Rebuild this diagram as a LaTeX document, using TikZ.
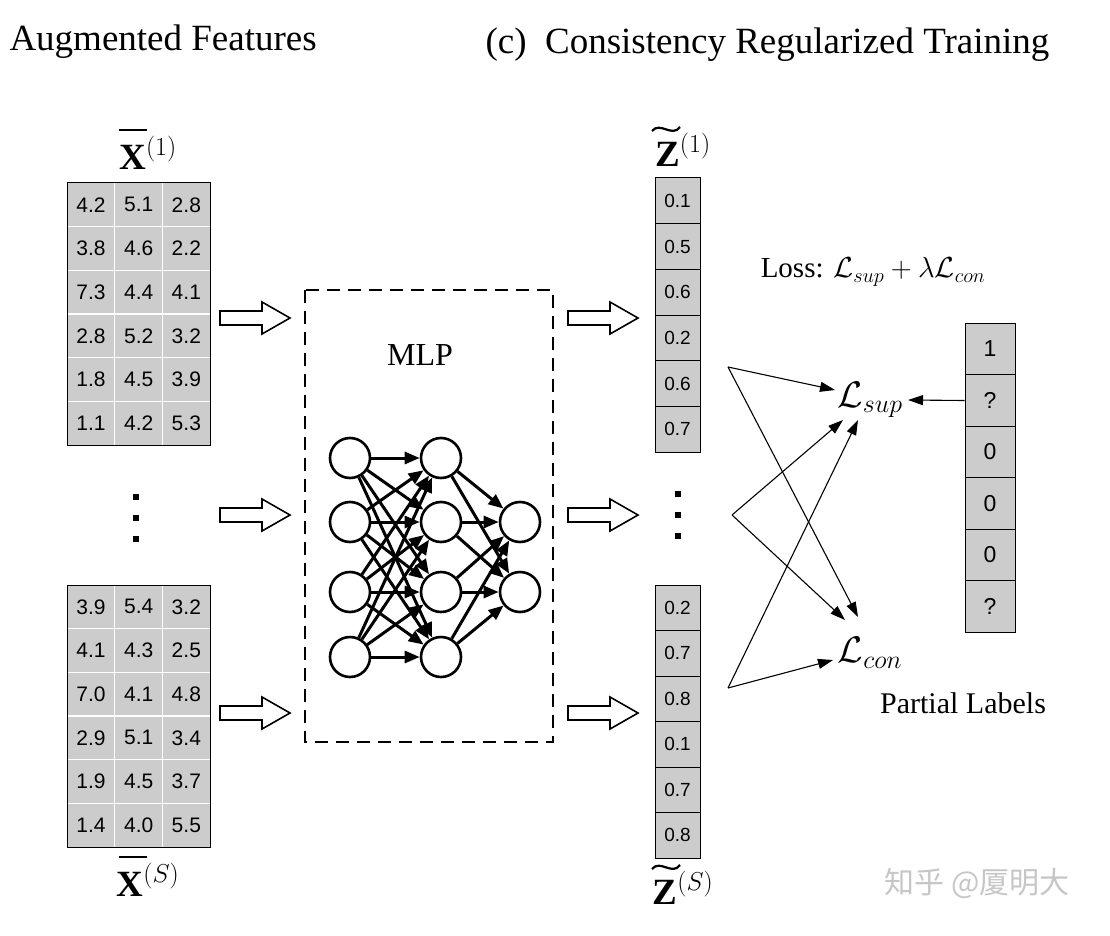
\documentclass[tikz,border=0pt]{standalone}
\usepackage{fix-cm}
\usepackage{fontspec}
\setmainfont{Liberation Serif}
\newfontfamily\cellfont{Liberation Sans}
\newfontfamily\cjk{Noto Sans CJK SC}
\usetikzlibrary{arrows.meta}
\begin{document}
\begin{tikzpicture}[x=1pt,y=-1pt,
  big/.style={font=\fontsize{37}{40}\selectfont},
  mid/.style={font=\fontsize{32}{36}\selectfont},
  cell/.style={font=\cellfont\fontsize{21}{24}\selectfont},
  neu/.style={circle,draw,line width=2.6pt,minimum size=40,inner sep=0},
  na/.style={line width=3pt,-{Triangle[length=15,width=12]},shorten >=0},
  la/.style={line width=1.1pt,-{Triangle[length=15,width=10]}},
  acc/.style={line width=2.2pt},
  dot/.style={fill=black,minimum size=6,inner sep=0}]
\useasboundingbox (0,0) rectangle (1110,936);
\node[big,anchor=west] (t1) at (6,42) {Augmented Features};
\node[big,anchor=west] (t2) at (482,45) {(c)\ \ Consistency Regularized Training};
\newcommand\mymatrix[3]{%
  \fill[gray!40] (67,#1) rectangle (210,#1+262);
  \foreach \i in {1,...,5} \draw[white,line width=1.5pt] (67,#1+\i*43.67) -- (210,#1+\i*43.67);
  \foreach \j in {1,2} \draw[white,line width=1.5pt] (67+\j*47.67,#1) -- (67+\j*47.67,#1+262);
  \draw[line width=1pt] (67,#1) rectangle (210,#1+262);
  \foreach \row [count=\i from 0] in {#2} {
    \foreach \v [count=\j from 0] in \row
      \node[cell] (m#3\i\j) at (91+\j*47.67,#1+21.8+\i*43.67) {\v};}}
\mymatrix{183}{{4.2,5.1,2.8},{3.8,4.6,2.2},{7.3,4.4,4.1},{2.8,5.2,3.2},{1.8,4.5,3.9},{1.1,4.2,5.3}}{a}
\mymatrix{585}{{3.9,5.4,3.2},{4.1,4.3,2.5},{7.0,4.1,4.8},{2.9,5.1,3.4},{1.9,4.5,3.7},{1.4,4.0,5.5}}{b}
\node[big] (x1) at (148,153) {$\mathbf{X}^{(1)}$};
\node[big] (xs) at (148,880) {$\mathbf{X}^{(S)}$};
\draw[acc] (119,130) -- (147,130);
\draw[acc] (119,857) -- (147,857);
\foreach \y [count=\k] in {497,518,539} {
  \node[dot] (da\k) at (136,\y) {};
  \node[dot] (db\k) at (678,\y-3) {};}
\newcommand\hollow[2]{\draw[line width=1.6pt,fill=white,line join=miter] (#1,#2-7) -- (#1+42,#2-7) -- (#1+42,#2-16) -- (#1+70,#2) -- (#1+42,#2+16) -- (#1+42,#2+7) -- (#1,#2+7) -- cycle;}
\foreach \y in {318,515,713} {\hollow{220}{\y}\hollow{568}{\y}}
\draw[line width=2.4pt,dash pattern=on 13pt off 8pt] (305,290) rectangle (553,742);
\node[mid] (mlp) at (420,355) {MLP};
\foreach \y [count=\k] in {458,522,592,657} {
  \node[neu] (a\k) at (350,\y) {};
  \node[neu] (b\k) at (441,\y) {};}
\node[neu] (c1) at (520,522) {};
\node[neu] (c2) at (520,592) {};
\foreach \i in {1,...,4} \foreach \j in {1,...,4} \draw[na] (a\i) -- (b\j);
\foreach \i in {1,...,4} \foreach \j in {1,2} \draw[na] (b\i) -- (c\j);
\newcommand\zcol[4]{%
  \foreach \v [count=\i from 0] in {#2} {
    \node[cell,font=\cellfont\fontsize{19}{22}\selectfont,draw,fill=gray!40,line width=1pt,minimum width=45,minimum height=#3,inner sep=0] (z#4\i) at (677.5,#1+#3/2+\i*#3) {\v};}}
\zcol{178}{0.1,0.5,0.6,0.2,0.6,0.7}{45.7}{a}
\zcol{585}{0.2,0.7,0.8,0.1,0.7,0.8}{45.5}{b}
\node[big] (z1) at (683,150) {$\mathbf{Z}^{(1)}$};
\node[big] (zs) at (683,888) {$\mathbf{Z}^{(S)}$};
\draw[acc] (652,131) .. controls (660,121) and (672,138) .. (680,127);
\draw[acc] (652,869) .. controls (660,859) and (672,876) .. (680,865);
\node[font=\fontsize{29}{34}\selectfont] (loss) at (873,272) {Loss: $\mathcal{L}_{sup}+\lambda\mathcal{L}_{con}$};
\node[big,inner sep=2] (ls) at (870,400) {$\mathcal{L}_{sup}$};
\node[big,inner sep=2] (lc) at (870,653) {$\mathcal{L}_{con}$};
\foreach \v [count=\i from 0] in {1,?,0,0,0,?}
  \node[cell,font=\cellfont\fontsize{23}{26}\selectfont,draw,fill=gray!40,line width=1pt,minimum width=50,minimum height=51.5,inner sep=0] (p\i) at (990,349+\i*51.5) {\v};
\node[font=\fontsize{30}{34}\selectfont] (pl) at (963,703) {Partial Labels};
\coordinate (s1) at (728,367);
\coordinate (s2) at (732,515);
\coordinate (s3) at (728,688);
\draw[la] (s1) -- (835,390);
\draw[la] (s1) -- (858,617);
\draw[la] (s2) -- (843,420);
\draw[la] (s2) -- (845,620);
\draw[la] (s3) -- (833,660);
\draw[la] (s3) -- (858,420);
\draw[la] (p1.west) -- (908,400);
\node[font=\cjk\fontsize{30}{32}\selectfont,text=gray!45] (wm) at (977,883) {知乎 @厦明大};
\end{tikzpicture}
\end{document}
